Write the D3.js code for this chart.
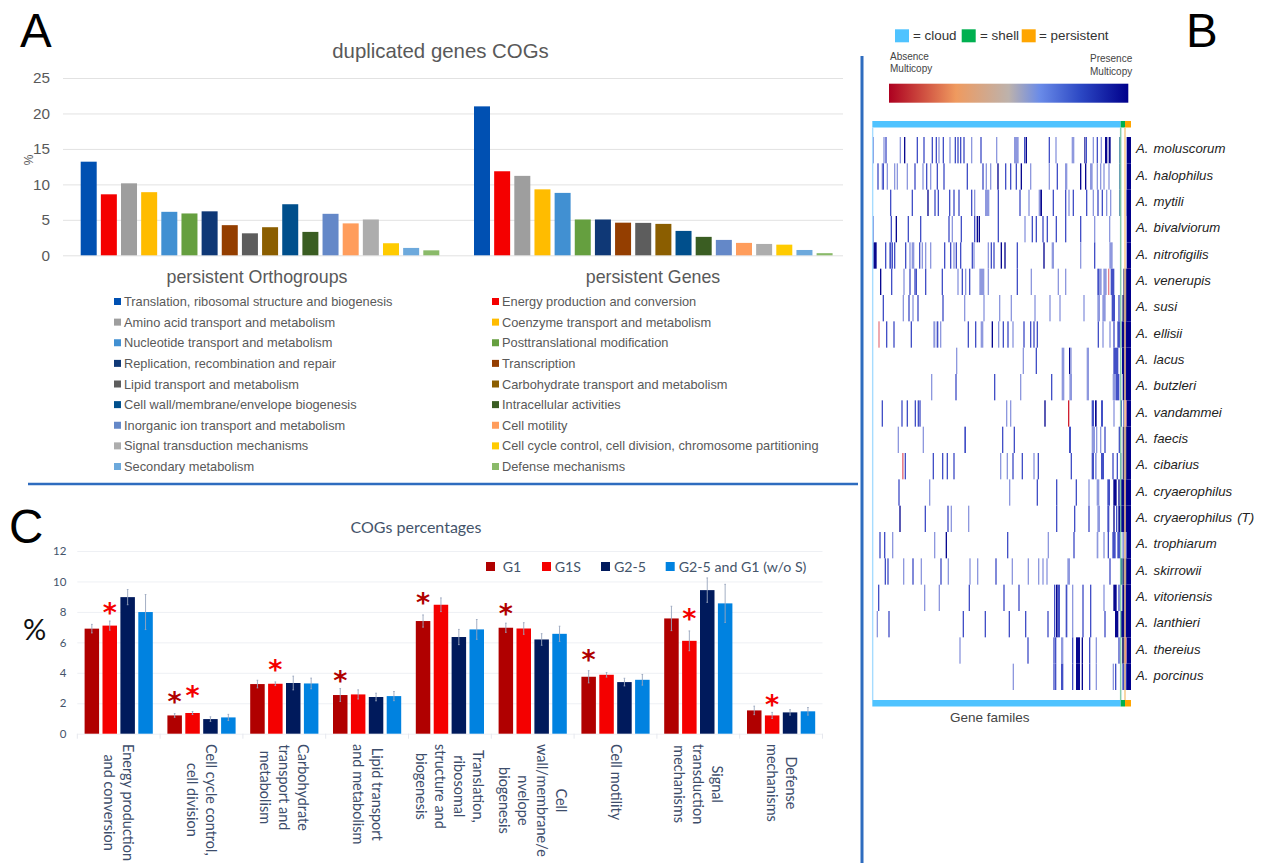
<!DOCTYPE html>
<html>
<head>
<meta charset="utf-8">
<script src="https://cdn.jsdelivr.net/npm/d3@7"></script>
<style>
  body { margin: 0; background: #fff; }
  svg { display: block; }
</style>
</head>
<body>
<svg id="chart" width="1265" height="863"></svg>
<script>
// panel A
const cogNames = [
  "Translation, ribosomal structure and biogenesis", "Energy production and conversion",
  "Amino acid transport and metabolism", "Coenzyme transport and metabolism",
  "Nucleotide transport and metabolism", "Posttranslational modification",
  "Replication, recombination and repair", "Transcription",
  "Lipid transport and metabolism", "Carbohydrate transport and metabolism",
  "Cell wall/membrane/envelope biogenesis", "Intracellular activities",
  "Inorganic ion transport and metabolism", "Cell motility",
  "Signal transduction mechanisms", "Cell cycle control, cell division, chromosome partitioning",
  "Secondary metabolism", "Defense mechanisms"
];
const cogColors = ["#0050b2", "#f40000", "#9e9e9e", "#ffbc00", "#4190d2", "#659f3f", "#0f3876", "#943e00", "#5d5d5d",
  "#8b5e00", "#004f8c", "#3a5d22", "#6488c8", "#ff9d5c", "#adadad", "#ffcb00", "#6da9dc", "#8aba69"];
const groupNames = ["persistent Orthogroups", "persistent Genes"];
const orthogroups = [13.2, 8.6, 10.15, 8.9, 6.13, 5.9, 6.2, 4.25, 3.1, 3.96, 7.2, 3.3, 5.85, 4.5, 5.05, 1.7, 1.04, 0.7];
const genes = [21.0, 11.85, 11.2, 9.3, 8.8, 5.05, 5.05, 4.6, 4.57, 4.43, 3.44, 2.6, 2.17, 1.75, 1.6, 1.5, 0.75, 0.3];
const ticksA = [0, 5, 10, 15, 20, 25];

// panel C
const cCategories = [
  ["Energy production", "and conversion"],
  ["Cell cycle control,", "cell division"],
  ["Carbohydrate", "transport and", "metabolism"],
  ["Lipid transport", "and metabolism"],
  ["Translation,", "ribosomal", "structure and", "biogenesis"],
  ["Cell", "wall/membrane/e", "nvelope", "biogenesis"],
  ["Cell motility"],
  ["Signal", "transduction", "mechanisms"],
  ["Defense", "mechanisms"]
];
const cSeries = ["G1", "G1S", "G2-5", "G2-5 and G1 (w/o S)"];
const cColors = ["#b00000", "#f40000", "#001a5c", "#0082e0"];
const g1 = [6.9, 1.2, 3.26, 2.54, 7.4, 6.96, 3.74, 7.57, 1.53];
const g1s = [7.1, 1.36, 3.28, 2.58, 8.47, 6.91, 3.87, 6.1, 1.2];
const g25 = [8.97, 0.96, 3.33, 2.41, 6.35, 6.19, 3.39, 9.43, 1.4];
const g25g1 = [7.99, 1.07, 3.3, 2.47, 6.85, 6.56, 3.54, 8.56, 1.47];
const g1Err = [0.28, 0.12, 0.25, 0.42, 0.4, 0.3, 0.4, 0.8, 0.28];
const g1sErr = [0.3, 0.1, 0.12, 0.3, 0.45, 0.38, 0.15, 0.65, 0.2];
const g25Err = [0.5, 0.15, 0.45, 0.25, 0.5, 0.38, 0.25, 0.8, 0.18];
const g25g1Err = [1.15, 0.2, 0.35, 0.3, 0.65, 0.5, 0.35, 1.25, 0.25];
const ticksC = [0, 2, 4, 6, 8, 10, 12];
// significance stars: category index, series index, height in % units
const starCategory = [0, 1, 1, 2, 3, 4, 5, 6, 7, 8];
const starSeries = [1, 0, 1, 1, 0, 0, 0, 0, 1, 1];
const starValue = [8.19, 2.36, 2.76, 4.46, 3.72, 8.84, 8.12, 5.1, 7.77, 2.12];

// panel B: gene family presence per species, [family, level, span]
// levels: 1 light, 2 mid, 3 dark, 4 pale red, 5 red, 6 teal, 7 grey
const levelColors = ["#fff", "#8e98de", "#4350c6", "#08088f", "#e8808a", "#d02030", "#1f6f90", "#3f3f88"];
const species = ["A. moluscorum", "A. halophilus", "A. mytili", "A. bivalviorum", "A. nitrofigilis", "A. venerupis",
  "A. susi", "A. ellisii", "A. lacus", "A. butzleri", "A. vandammei", "A. faecis", "A. cibarius", "A. cryaerophilus",
  "A. cryaerophilus (T)", "A. trophiarum", "A. skirrowii", "A. vitoriensis", "A. lanthieri", "A. thereius", "A. porcinus"];
const moluscorum = [[7,2],[40,1],[46,2],[89,1],[102,3],[140,2],[160,2],[185,2],[197,2],[205,1],[218,2],[238,1],[254,2],[262,2],[270,2],[280,2],[303,1],[331,2],[378,1],[432,1,14],[462,2],[467,3],[536,2],[556,1],[605,1,8],[643,3,3],[647,2],[668,1],[680,2],[692,1],[705,3,7],[716,3,6],[748,6]];
const halophilus = [[22,2],[35,1],[38,2],[50,1],[72,1],[80,1],[110,1],[133,2],[157,1],[168,2],[180,1],[200,2],[220,2],[290,2],[337,2],[347,1],[360,1],[382,3],[405,2],[420,2],[437,2],[452,3],[480,1],[536,1],[560,2],[585,1,7],[630,3],[645,3],[660,1,8],[680,1],[690,1],[700,1],[715,1],[748,6]];
const mytili = [[60,2],[125,2],[172,3],[193,2],[203,2],[237,2],[250,2],[265,2],[303,2],[312,1],[345,1,13],[383,2],[448,2],[475,1],[506,1,5],[511,3,5],[548,2],[585,2],[595,1],[608,2],[648,2],[668,1],[682,2],[695,2],[708,1],[720,1],[748,6],[770,2]];
const bivalviorum = [[7,2],[62,2],[77,3],[113,2],[150,2],[235,2],[245,1],[272,2],[312,2],[320,3],[326,3],[383,2],[463,1],[485,2],[497,2],[517,2],[530,2],[557,2],[585,2],[630,2],[672,1],[717,1]];
const nitrofigilis = [[10,3,10],[45,2],[57,1],[60,2],[65,2],[72,2],[105,2],[118,1],[125,1,8],[147,2],[155,1],[165,1],[180,1],[222,2],[240,2],[250,1],[257,2],[270,2],[305,2],[310,1],[353,1],[362,2],[370,2],[392,3],[403,3],[440,2],[520,3],[545,1,7],[630,1],[672,2],[718,1,10]];
const venerupis = [[30,3],[63,2],[100,1],[118,2],[133,2],[137,2],[165,2],[215,2],[262,1],[275,2],[285,1],[297,2],[328,1,15],[353,1],[440,2],[482,1],[563,1],[585,1],[682,2,5],[687,1,8],[700,1,10],[714,4],[722,2,11],[760,7,11],[775,5]];
const susi = [[38,2],[98,1],[115,2],[127,1],[142,2],[217,2],[282,1],[340,1],[387,1],[422,1],[493,1],[538,1],[568,1],[640,1],[682,1,8],[697,1,10],[725,2,10],[745,2],[757,7,14]];
const ellisii = [[25,4],[48,2],[70,2],[122,2],[190,1,6],[200,2,5],[210,1],[293,2],[315,2],[332,1,8],[365,3],[384,1],[398,2],[412,2],[427,1],[460,2],[480,2],[490,2],[500,2],[683,2],[697,1],[718,1],[730,2],[742,2,8],[755,3,16]];
const lacus = [[258,1],[458,1],[497,2],[575,1,8],[597,3],[601,1],[650,1,7],[730,2,15],[756,3,15]];
const butzleri = [[183,1],[256,2],[372,2],[450,1],[543,2],[575,1,8],[598,1,8],[650,1,7],[728,1,10],[738,2,10],[758,3,13]];
const vandammei = [[35,2],[94,2],[110,2],[134,2],[143,2],[148,2],[408,1],[420,1],[523,3],[594,5],[665,2,7],[675,3,5],[693,2,6],[730,1],[752,2],[760,2],[766,4]];
const faecis = [[83,1],[158,1],[283,2,5],[396,2],[431,2],[597,2,6],[665,1,10],[678,1],[690,1],[703,2],[746,2],[758,7,13]];
const cibarius = [[96,4,5],[104,2],[188,2],[216,2],[230,2],[250,2],[390,1],[410,1],[427,2],[455,2],[490,1],[503,2],[602,2],[665,2,7],[675,1,5],[693,2,9],[727,2],[740,2],[750,6],[758,7,13]];
const cryaerophilus = [[85,2],[177,1],[417,1],[500,2],[558,2],[617,2],[655,1],[680,1,8],[712,2,8],[730,3,10],[745,3],[752,3,19]];
const cryaerophilusT = [[88,3],[164,2],[232,2],[242,1],[294,1],[558,2],[612,2],[655,2],[682,1,8],[712,2,6],[730,3],[738,2],[745,3,26]];
const trophiarum = [[28,2],[42,2],[66,1],[192,1],[227,3],[411,2],[533,1],[610,2],[680,1,5],[700,1],[713,2],[727,2,10],[742,2,8],[757,1,14]];
const skirrowii = [[44,2],[52,2],[99,1],[127,2],[152,1],[211,2],[233,1],[298,1],[321,1],[376,2],[425,1],[473,1],[504,1],[517,1],[529,1],[592,1,8],[718,2],[750,6,8],[758,7,13]];
const vitoriensis = [[24,2],[162,1],[206,1],[296,2],[400,2],[445,2],[552,2],[558,3,5],[563,2,7],[587,2,5],[606,1],[637,2],[660,2],[700,1],[730,3,10],[745,2],[757,3,14]];
const lanthieri = [[20,1],[55,2],[278,2],[344,2],[416,2],[465,2],[532,2],[552,2],[558,3,5],[563,2,7],[587,2,5],[606,1],[637,2],[660,2],[703,2],[735,3,10],[752,3,19]];
const thereius = [[268,1],[472,2],[550,2],[555,2],[573,1,7],[606,2],[618,3,12],[635,3],[657,2],[677,1],[745,2],[756,7,9],[765,5]];
const porcinus = [[428,1],[550,2],[555,2],[573,2,7],[606,2],[618,3,12],[635,3],[657,2],[677,1],[728,1],[735,2],[757,2,15]];
const speciesCells = [moluscorum, halophilus, mytili, bivalviorum, nitrofigilis, venerupis, susi, ellisii, lacus, butzleri,
  vandammei, faecis, cibarius, cryaerophilus, cryaerophilusT, trophiarum, skirrowii, vitoriensis, lanthieri, thereius, porcinus];
const segmentNames = ["cloud", "shell", "persistent"];
const segmentStart = [7, 752, 765];
const segmentEnd = [752, 765, 783];
const segmentColors = ["#4fc3ff", "#00b050", "#ffa500"];
const colorBarStops = ["#ad0020", "#ef9a5f", "#bdb2ac", "#6a8be8", "#2c48c4", "#00008b"];

const svg = d3.select("#chart");
const sans = "'Liberation Sans', Arial, sans-serif";
const lato = "Lato, sans-serif";

const addText = (x, y, str, size, fill, family) =>
  svg.append("text").attr("x", x).attr("y", y).attr("font-size", size)
    .attr("fill", fill).attr("font-family", family || sans).text(str);

// panel letters and separators
addText(20, 47, "A", 47.5, "#000");
addText(1186, 47, "B", 47.5, "#000");
addText(9, 543, "C", 47.5, "#000");
svg.append("line").attr("x1", 28).attr("x2", 858).attr("y1", 484).attr("y2", 484)
  .attr("stroke", "#2e6cbf").attr("stroke-width", 2.6);
svg.append("line").attr("x1", 862).attr("x2", 862).attr("y1", 56).attr("y2", 863)
  .attr("stroke", "#2e6cbf").attr("stroke-width", 3);

/* ---------- panel A ---------- */
const yA = d3.scaleLinear().domain([0, 25]).range([255.3, 78]);
const groupA = d3.scaleBand().domain(groupNames).range([70.7, 857.3]);
const barA = d3.scaleBand().domain(cogNames).range([10, 368.6]).paddingInner(0.206);

const axisA = svg.append("g").attr("transform", "translate(63,0)")
  .call(d3.axisLeft(yA).tickValues(ticksA).tickSize(-780).tickPadding(13));
axisA.select(".domain").remove();
axisA.selectAll("line").attr("stroke", "#e2e2e2").attr("stroke-width", 1);
axisA.selectAll("text").attr("fill", "#595959").attr("font-size", 15.3).attr("font-family", sans);

[orthogroups, genes].forEach((values, g) => {
  svg.append("g").attr("transform", `translate(${groupA(groupNames[g])},0)`)
    .selectAll("rect").data(values).join("rect")
    .attr("x", (d, i) => barA(cogNames[i]))
    .attr("y", (d) => yA(d))
    .attr("width", barA.bandwidth())
    .attr("height", (d) => yA(0) - yA(d))
    .attr("fill", (d, i) => cogColors[i]);
});

addText(440.5, 58, "duplicated genes COGs", 20.4, "#595959").attr("text-anchor", "middle");
svg.append("text").attr("transform", "translate(33,160) rotate(-90)").attr("text-anchor", "middle")
  .attr("font-size", 12).attr("fill", "#595959").attr("font-family", sans).text("%");
addText(257, 283, groupNames[0], 17.8, "#595959").attr("text-anchor", "middle");
addText(653, 283, groupNames[1], 17.8, "#595959").attr("text-anchor", "middle");

const legendARow = d3.scalePoint().domain(d3.range(9)).range([301.5, 466.5]);
const legendA = svg.append("g").selectAll("g").data(cogNames).join("g")
  .attr("transform", (d, i) => `translate(${i % 2 ? 492 : 114},${legendARow(Math.floor(i / 2))})`);
legendA.append("rect").attr("y", -3.5).attr("width", 7).attr("height", 7).attr("fill", (d, i) => cogColors[i]);
legendA.append("text").attr("x", 10).attr("y", 4.5).attr("font-size", 12.8)
  .attr("fill", "#595959").attr("font-family", sans).text((d) => d);

/* ---------- panel C ---------- */
const yC = d3.scaleLinear().domain([0, 12]).range([733.7, 551]);
const cIndex = d3.range(cCategories.length);
const groupC = d3.scaleBand().domain(cIndex).range([77.3, 822.5]);
const barC = d3.scaleBand().domain(cSeries).range([7.3, 75.5]).paddingInner(0.19);
const cValues = [g1, g1s, g25, g25g1];
const cErrors = [g1Err, g1sErr, g25Err, g25g1Err];

const axisC = svg.append("g").attr("transform", "translate(77.3,0)")
  .call(d3.axisLeft(yC).tickValues(ticksC).tickSize(-745.2).tickPadding(11));
axisC.select(".domain").remove();
axisC.selectAll("line").attr("stroke", "#eef0f4").attr("stroke-width", 1);
axisC.selectAll("text").attr("fill", "#44546a").attr("font-size", 11.5).attr("font-family", lato);

// category separators under the axis
svg.append("g").selectAll("line").data(d3.range(cCategories.length + 1)).join("line")
  .attr("x1", (d) => groupC.range()[0] + d * groupC.step())
  .attr("x2", (d) => groupC.range()[0] + d * groupC.step())
  .attr("y1", yC(0)).attr("y2", yC(0) + 5)
  .attr("stroke", "#e6e8ee");

cSeries.forEach((name, s) => {
  const x = (i) => groupC(i) + barC(name);
  const center = (i) => x(i) + barC.bandwidth() / 2;
  const g = svg.append("g");
  g.selectAll("rect").data(cValues[s]).join("rect")
    .attr("x", (d, i) => x(i))
    .attr("y", (d) => yC(d))
    .attr("width", barC.bandwidth())
    .attr("height", (d) => yC(0) - yC(d))
    .attr("fill", cColors[s]);
  const err = cErrors[s];
  g.selectAll("path").data(cValues[s]).join("path")
    .attr("d", (d, i) => {
      const top = yC(d + err[i]), bot = yC(d - err[i]), c = center(i);
      return `M${c - 0.8},${top}H${c + 0.8}M${c},${top}V${bot}M${c - 0.8},${bot}H${c + 0.8}`;
    })
    .attr("fill", "none").attr("stroke", "#9aa6bd").attr("stroke-width", 0.9);
});

svg.append("g").selectAll("text").data(starValue).join("text")
  .attr("x", (d, i) => groupC(starCategory[i]) + barC(cSeries[starSeries[i]]) + barC.bandwidth() / 2)
  .attr("y", (d) => yC(d))
  .attr("dy", "0.48em")
  .attr("text-anchor", "middle")
  .attr("font-size", 27)
  .attr("font-weight", "bold")
  .attr("font-family", "'DejaVu Sans', sans-serif")
  .attr("fill", (d, i) => cColors[starSeries[i]])
  .text("*");

addText(416, 533, "COGs percentages", 16, "#44546a", lato).attr("text-anchor", "middle");
addText(23, 640, "%", 29, "#111", lato);

// category labels, rotated, top aligned as one block
const lineStep = 19;
const labelTop = 744;
cCategories.forEach((lines, i) => {
  const label = svg.append("text").attr("font-size", 14.5).attr("font-family", lato)
    .attr("fill", "#3d4d6b").attr("text-anchor", "middle");
  label.selectAll("tspan").data(lines).join("tspan")
    .attr("x", 0)
    .attr("y", (d, j) => (j - (lines.length - 1) / 2) * lineStep + 5)
    .text((d) => d);
  const longest = d3.max(label.selectAll("tspan").nodes(), (n) => n.getComputedTextLength());
  label.attr("transform", `translate(${groupC(i) + groupC.bandwidth() / 2},${labelTop + longest / 2}) rotate(90)`);
});

const legendCSwatch = [486, 542, 601, 665.7];
const legendCText = [502.7, 554.7, 614, 678.7];
cSeries.forEach((name, s) => {
  svg.append("rect").attr("x", legendCSwatch[s]).attr("y", 562).attr("width", 9).attr("height", 9).attr("fill", cColors[s]);
  addText(legendCText[s], 571.5, name, 14.2, "#44546a", lato);
});

/* ---------- panel B ---------- */
const family = d3.scaleLinear().domain([7, 783]).range([872.33, 1131]);
const row = d3.scaleBand().domain(species).range([137, 690]);

const legendBSwatch = [895, 961.7, 1021.7];
const legendBText = [913, 980, 1039];
segmentNames.forEach((name, s) => {
  svg.append("rect").attr("x", legendBSwatch[s]).attr("y", 29.3).attr("width", 14).attr("height", 13).attr("fill", segmentColors[s]);
  addText(legendBText[s], 40, "= " + name, 13.4, "#333");
});
addText(890, 59.5, "Absence", 10, "#444");
addText(890, 72, "Multicopy", 10, "#444");
addText(1090, 62, "Presence", 10, "#444");
addText(1090, 74.5, "Multicopy", 10, "#444");

const gradient = svg.append("defs").append("linearGradient").attr("id", "copyScale");
gradient.selectAll("stop").data(colorBarStops).join("stop")
  .attr("offset", (d, i) => [0, 0.28, 0.5, 0.63, 0.8, 1][i])
  .attr("stop-color", (d) => d);
svg.append("rect").attr("x", 889).attr("y", 83.7).attr("width", 239.3).attr("height", 19).attr("fill", "url(#copyScale)");

speciesCells.forEach((cells, r) => {
  svg.append("g").selectAll("rect").data(cells).join("rect")
    .attr("x", (d) => family(d[0]))
    .attr("y", row(species[r]))
    .attr("width", (d) => family(d[0] + (d[2] || 4)) - family(d[0]))
    .attr("height", row.bandwidth())
    .attr("fill", (d) => levelColors[d[1]]);
  // persistent gene families are present everywhere
  svg.append("rect").attr("x", family(770)).attr("y", row(species[r]))
    .attr("width", family(783) - family(770)).attr("height", row.bandwidth()).attr("fill", "#00008b");
});

// cloud / shell / persistent marker bars and guide lines
[121, 700].forEach((y) => {
  svg.append("g").selectAll("rect").data(segmentNames).join("rect")
    .attr("x", (d, i) => family(segmentStart[i]))
    .attr("y", y)
    .attr("width", (d, i) => family(segmentEnd[i]) - family(segmentStart[i]))
    .attr("height", 6.5)
    .attr("fill", (d, i) => segmentColors[i]);
});
const guideFamily = [8, 752, 765];
const guideColors = ["#a6dcff", "#7cc8a4", "#f7c98a"];
const guideOpacity = [1, 0.9, 0.75];
const guideWidth = [1.4, 1.5, 2];
svg.append("g").selectAll("line").data(guideFamily).join("line")
  .attr("x1", (d) => family(d)).attr("x2", (d) => family(d))
  .attr("y1", 127.5).attr("y2", 700)
  .attr("stroke", (d, i) => guideColors[i])
  .attr("stroke-opacity", (d, i) => guideOpacity[i])
  .attr("stroke-width", (d, i) => guideWidth[i]);

svg.append("g").selectAll("text").data(species).join("text")
  .attr("x", 1136)
  .attr("y", (d) => row(d) + row.bandwidth() / 2 + 3)
  .attr("font-size", 13.2)
  .attr("font-style", "italic")
  .attr("fill", "#222")
  .attr("font-family", sans)
  .style("word-spacing", "1.5px")
  .text((d) => d);

addText(950, 722, "Gene familes", 13.5, "#444");
</script>
</body>
</html>
